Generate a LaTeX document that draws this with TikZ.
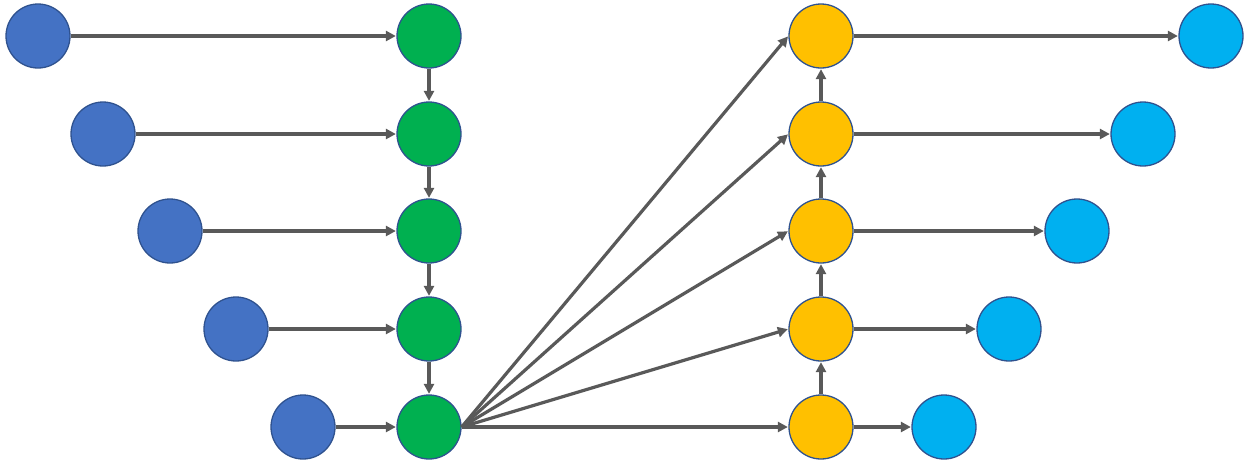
\documentclass[tikz,border=0pt]{standalone}
\usetikzlibrary{arrows.meta}
\definecolor{cblue}{HTML}{4472C4}
\definecolor{cgreen}{HTML}{00B050}
\definecolor{cyellow}{HTML}{FFC000}
\definecolor{ccyan}{HTML}{00B0F0}
\definecolor{cedge}{HTML}{2F528F}
\definecolor{cline}{HTML}{595959}
\begin{document}
\begin{tikzpicture}[x=1pt,y=-1pt,
  dot/.style={circle,minimum size=64pt,inner sep=0pt,draw=cedge,line width=1.3pt},
  bdot/.style={dot,fill=cblue},
  gdot/.style={dot,fill=cgreen},
  ydot/.style={dot,fill=cyellow},
  cdot/.style={dot,fill=ccyan},
  conn/.style={draw=cline,line width=3.2pt,-{Triangle[length=10pt,width=10pt]},shorten >=0.5pt}]
\useasboundingbox (0,0) rectangle (1248,464);
\foreach \i/\bx/\cx/\y in {1/38/1211/36,2/103/1143/134,3/170/1077/231,4/236/1009/329,5/303/944/427}{
  \node[bdot] (b\i) at (\bx,\y) {};
  \node[gdot] (g\i) at (429,\y) {};
  \node[ydot] (y\i) at (821,\y) {};
  \node[cdot] (c\i) at (\cx,\y) {};
  \draw[conn] (b\i) -- (g\i);
  \draw[conn] (y\i) -- (c\i);
}
\draw[conn] (g1) -- (g2);
\draw[conn] (g2) -- (g3);
\draw[conn] (g3) -- (g4);
\draw[conn] (g4) -- (g5);
\draw[conn] (y5) -- (y4);
\draw[conn] (y4) -- (y3);
\draw[conn] (y3) -- (y2);
\draw[conn] (y2) -- (y1);
\foreach \i in {1,2,3,4,5}{
  \draw[conn] (g5.east) -- (y\i.west);
}
\end{tikzpicture}
\end{document}
